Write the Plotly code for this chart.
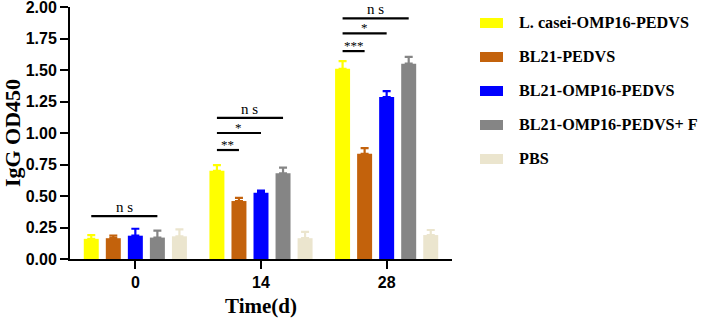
import plotly.graph_objects as go

# ---------------- data ----------------
timepoints = ["0", "14", "28"]
series_names = ["L. casei-OMP16-PEDVS", "BL21-PEDVS", "BL21-OMP16-PEDVS",
                "BL21-OMP16-PEDVS+ F", "PBS"]
series_colors = ["#FFFF00", "#C3620C", "#0000FF", "#858585", "#EBE5CE"]

lcasei_mean = [0.16, 0.70, 1.51]
lcasei_err = [0.03, 0.045, 0.06]
bl21_mean = [0.165, 0.46, 0.835]
bl21_err = [0.02, 0.025, 0.045]
bl21omp_mean = [0.185, 0.525, 1.285]
bl21omp_err = [0.055, 0.018, 0.048]
bl21ompf_mean = [0.17, 0.68, 1.55]
bl21ompf_err = [0.055, 0.045, 0.055]
pbs_mean = [0.18, 0.165, 0.19]
pbs_err = [0.055, 0.05, 0.04]

means = [lcasei_mean, bl21_mean, bl21omp_mean, bl21ompf_mean, pbs_mean]
errs = [lcasei_err, bl21_err, bl21omp_err, bl21ompf_err, pbs_err]

# significance comparisons: group, from series, to series, level, label
sig_group = [0, 1, 1, 1, 2, 2, 2]
sig_from = [0, 0, 0, 0, 0, 0, 0]
sig_to = [3, 1, 2, 3, 1, 2, 3]
sig_level = [0.34, 0.865, 1.0, 1.12, 1.65, 1.79, 1.91]
sig_label = ["n s", "**", "*", "n s", "***", "*", "n s"]

# ---------------- figure ----------------
W, H = 709, 318
ML, MR, MT, MB = 70, 257, 7, 59
BARGAP = 0.123
GROUPGAP = 0.32
n = len(series_names)
slot = (1 - BARGAP) / n


def bar_center(g, i):
    return g - (1 - BARGAP) / 2 + slot * (i + 0.5)


xs = list(range(len(timepoints)))
fig = go.Figure()
for name, col, m, e in zip(series_names, series_colors, means, errs):
    fig.add_trace(go.Bar(
        x=xs, y=m, name=name, marker=dict(color=col, line=dict(width=0)),
        error_y=dict(type="data", array=e, symmetric=False,
                     arrayminus=[0] * len(e), color=col, thickness=2.2, width=4),
        showlegend=False))

serif = "Liberation Serif, Times New Roman, serif"
sans = "Liberation Sans, Arial, sans-serif"

for g, a, b, lvl, lab in zip(sig_group, sig_from, sig_to, sig_level, sig_label):
    x0, x1 = bar_center(g, a), bar_center(g, b)
    fig.add_shape(type="line", x0=x0, x1=x1, y0=lvl, y1=lvl,
                  xref="x", yref="y", line=dict(color="black", width=2.2))
    is_ns = "n" in lab
    fig.add_annotation(x=(x0 + x1) / 2, y=lvl, xref="x", yref="y", text=lab,
                       showarrow=False, yanchor="bottom",
                       yshift=-1 if is_ns else -4,
                       font=dict(family=serif, size=15 if is_ns else 13, color="black"))

# manual legend (to the right of the plot)
pw = W - ML - MR
ph = H - MT - MB
for k, (name, col) in enumerate(zip(series_names, series_colors)):
    cy = 23 + 34 * k
    fig.add_shape(type="rect", xref="paper", yref="paper",
                  x0=(480 - ML) / pw, x1=(503 - ML) / pw,
                  y0=(H - MB - (cy + 5)) / ph, y1=(H - MB - (cy - 5)) / ph,
                  line=dict(width=0), fillcolor=col)
    fig.add_annotation(xref="paper", yref="paper", x=(517 - ML) / pw,
                       y=(H - MB - cy) / ph, text=name, showarrow=False,
                       xanchor="left", yanchor="middle",
                       font=dict(family=serif, size=16.2, color="black", weight="bold"))

fig.update_layout(
    width=W, height=H,
    margin=dict(l=ML, r=MR, t=MT, b=MB, pad=0, autoexpand=False),
    barmode="group", bargap=BARGAP, bargroupgap=GROUPGAP,
    plot_bgcolor="white", paper_bgcolor="white",
    xaxis=dict(range=[-0.52, 2.52], tickvals=xs, ticktext=timepoints,
               showline=True, linecolor="black", linewidth=2,
               ticks="outside", ticklen=8, tickwidth=2, tickcolor="black",
               showgrid=False, zeroline=False, automargin=False,
               ticklabeloverflow="allow",
               tickfont=dict(family=sans, size=16, color="black", weight="bold"),
               title=dict(text="Time(d)", standoff=8,
                          font=dict(family=serif, size=21, color="black", weight="bold"))),
    yaxis=dict(range=[0, 2.0001], tick0=0, dtick=0.25, tickformat=".2f",
               showline=True, linecolor="black", linewidth=2,
               ticks="outside", ticklen=8, tickwidth=2, tickcolor="black",
               showgrid=False, zeroline=False, automargin=False,
               ticklabeloverflow="allow",
               tickfont=dict(family=sans, size=16, color="black", weight="bold"),
               title=dict(text="IgG OD450", standoff=6,
                          font=dict(family=serif, size=22, color="black", weight="bold"))),
)

fig.write_html("out.html", config={"displayModeBar": False},
               post_script="document.body.style.margin='0';document.body.style.overflow='hidden';")
